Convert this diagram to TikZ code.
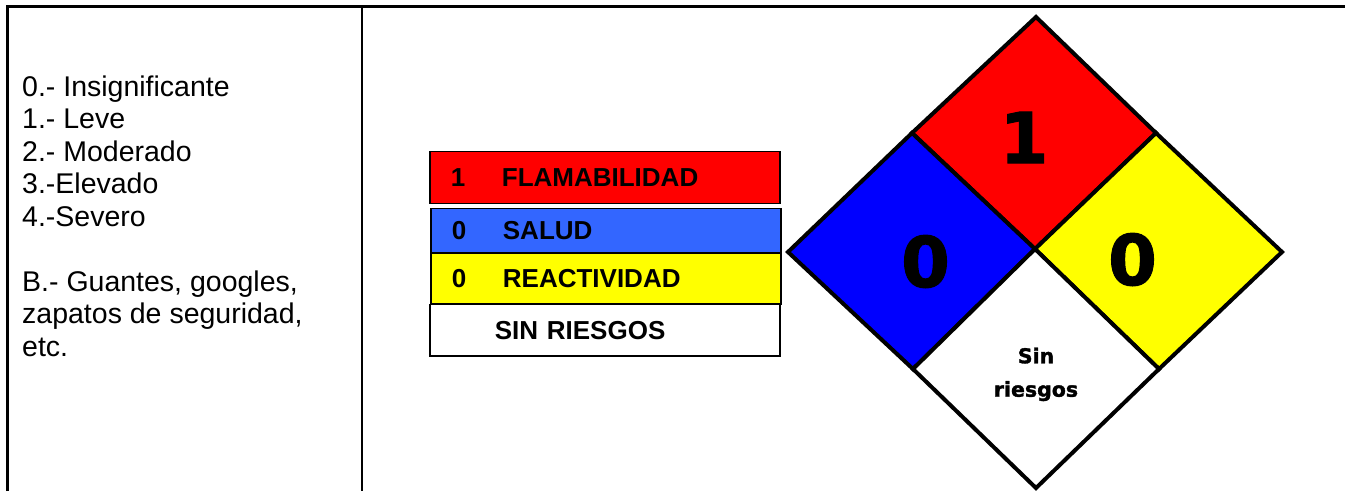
\documentclass[tikz,border=0pt]{standalone}
\usepackage{fontspec}
\setmainfont{Liberation Sans}
\newfontfamily\heavyfont[BoldFeatures={FakeBold=1.5}]{DejaVu Sans}
\definecolor{rojo}{HTML}{FF0000}
\definecolor{azul}{HTML}{0000FF}
\definecolor{azulclaro}{HTML}{3366FF}
\definecolor{amarillo}{HTML}{FFFF00}
\tikzset{
  hazbox/.style={draw=black, line width=1.8pt, anchor=north west, inner xsep=21pt,
    inner ysep=0pt, text width=308pt, align=left, minimum width=350pt,
    font=\bfseries\fontsize{26}{30}\selectfont},
  rombo/.style={draw=black, line width=4pt, line join=miter},
  cifra/.style={inner sep=0pt, anchor=base, font=\heavyfont\bfseries\fontsize{70}{80}\selectfont}
}
\begin{document}
\begin{tikzpicture}[x=1pt, y=-1pt]
			\useasboundingbox (0,0) rectangle (1345,491);
			% Table frame
			\draw[line width=2.5pt] (7.5,491) -- (7.5,6.5) -- (1345,6.5);
			\draw[line width=2.5pt] (362,6.5) -- (362,491);
			% Scale of risks
			\foreach \y/\txt [count=\i] in {96/{0.- Insignificante}, 128.5/{1.- Leve}, 161/{2.- Moderado},
				193.5/{3.-Elevado}, 226/{4.-Severo}, 291/{B.- Guantes, googles,},
				323.5/{zapatos de seguridad,}, 356/{etc.}}{
				\node[anchor=base west, inner sep=0pt, font=\fontsize{28.5}{33}\selectfont] (esc\i) at (22,\y) {\txt};
			}
			% Legend boxes
			\node[hazbox, fill=rojo, minimum height=52pt] (flam) at (429,150.5) {\makebox[51pt][l]{1}FLAMABILIDAD};
			\node[hazbox, fill=azulclaro, minimum height=44pt] (salud) at (430,207.5) {\makebox[51pt][l]{0}SALUD};
			\node[hazbox, fill=amarillo, minimum height=51pt] (reac) at (430,251.7) {\makebox[51pt][l]{0}REACTIVIDAD};
			\node[hazbox, fill=white, minimum height=51.5pt, minimum width=349pt] (sinr) at (429,303.5) {\makebox[44pt][l]{}SIN RIESGOS};
			% Diamond corners
			\coordinate (top) at (1036,17);
			\coordinate (lft) at (788,252);
			\coordinate (rgt) at (1282,252);
			\coordinate (bot) at (1036,488);
			\coordinate (ctr) at (1035,249);
			\coordinate (ul) at (912,133);
			\coordinate (ur) at (1156,133);
			\coordinate (ll) at (913,369);
			\coordinate (lr) at (1159,369);
			% Four quarters
			\draw[rombo, fill=rojo] (top) -- (ur) -- (ctr) -- (ul) -- cycle;
			\draw[rombo, fill=azul] (ul) -- (ctr) -- (ll) -- (lft) -- cycle;
			\draw[rombo, fill=amarillo] (ur) -- (rgt) -- (lr) -- (ctr) -- cycle;
			\draw[rombo, fill=white] (ctr) -- (lr) -- (bot) -- (ll) -- cycle;
			\node[cifra] (fuego) at (1024,163) {1};
			\node[cifra] (salud0) at (925.5,287) {0};
			\node[cifra] (reac0) at (1132.5,285) {0};
			\node[inner sep=0pt, anchor=base, font=\heavyfont\bfseries\fontsize{20.5}{24}\selectfont] (sin) at (1036,363.3) {Sin};
			\node[inner sep=0pt, anchor=base, font=\heavyfont\bfseries\fontsize{20.5}{24}\selectfont] (riesgos) at (1036,396.7) {riesgos};
		\end{tikzpicture}
\end{document}
